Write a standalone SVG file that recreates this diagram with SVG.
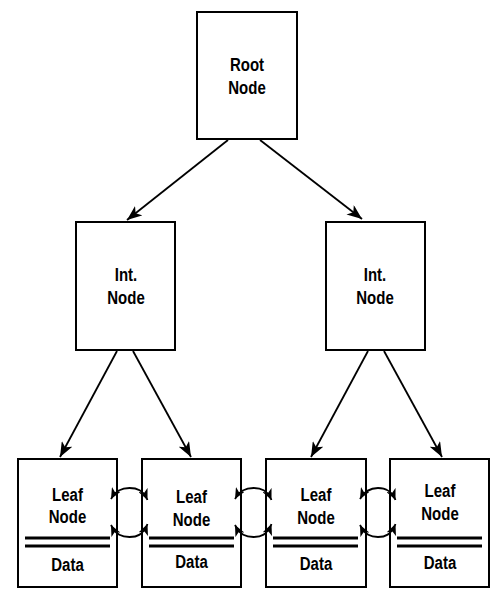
<svg xmlns="http://www.w3.org/2000/svg" width="499" height="600" viewBox="0 0 499 600">
<style>
.box{fill:#fff;stroke:#000;stroke-width:2}
.t{font-family:"Liberation Sans",Arial,sans-serif;font-weight:bold;font-size:18.5px;text-anchor:middle;fill:#000}
.sep{stroke:#000;stroke-width:3}
.edge{fill:none;stroke:#000;stroke-width:1.8;marker-end:url(#ah)}
.link{fill:none;stroke:#000;stroke-width:1.8;marker-start:url(#sh);marker-end:url(#sh)}
</style>
<defs>
<marker id="ah" viewBox="0 0 15 12" refX="15" refY="6" markerWidth="15" markerHeight="12" markerUnits="userSpaceOnUse" orient="auto">
<path d="M0,0 L15,6 L0,12 L4,6 z" fill="#000"/>
</marker>
<marker id="sh" viewBox="0 0 11 10" refX="11" refY="5" markerWidth="11" markerHeight="10" markerUnits="userSpaceOnUse" orient="auto-start-reverse">
<path d="M0,0 L11,5 L0,10 L3,5 z" fill="#000"/>
</marker>
</defs>
<rect width="499" height="600" fill="#fff"/>
<g id="root">
<rect class="box" x="197" y="12" width="100" height="127"/>
<text class="t" transform="matrix(0.81 0 0 1 247 71)">Root</text>
<text class="t" transform="matrix(0.81 0 0 1 247 94)">Node</text>
</g>
<g id="int1">
<rect class="box" x="76" y="222" width="99" height="128"/>
<text class="t" transform="matrix(0.81 0 0 1 126 281)">Int.</text>
<text class="t" transform="matrix(0.81 0 0 1 126 304)">Node</text>
</g>
<g id="int2">
<rect class="box" x="326" y="222" width="99" height="128"/>
<text class="t" transform="matrix(0.81 0 0 1 375 281)">Int.</text>
<text class="t" transform="matrix(0.81 0 0 1 375 304)">Node</text>
</g>
<g id="leaf1">
<rect class="box" x="18" y="459" width="99" height="128"/>
<line class="sep" x1="25" y1="538" x2="110" y2="538"/>
<line class="sep" x1="25" y1="546" x2="110" y2="546"/>
<text class="t" transform="matrix(0.81 0 0 1 67.5 500.5)">Leaf</text>
<text class="t" transform="matrix(0.81 0 0 1 67.5 523)">Node</text>
<text class="t" transform="matrix(0.81 0 0 1 67.5 570.5)">Data</text>
</g>
<g id="leaf2">
<rect class="box" x="142" y="459" width="99" height="128"/>
<line class="sep" x1="149" y1="538" x2="234" y2="538"/>
<line class="sep" x1="149" y1="546" x2="234" y2="546"/>
<text class="t" transform="matrix(0.81 0 0 1 191.5 502.5)">Leaf</text>
<text class="t" transform="matrix(0.81 0 0 1 191.5 526)">Node</text>
<text class="t" transform="matrix(0.81 0 0 1 191.5 568)">Data</text>
</g>
<g id="leaf3">
<rect class="box" x="266" y="459" width="100" height="128"/>
<line class="sep" x1="273" y1="538" x2="358" y2="538"/>
<line class="sep" x1="273" y1="546" x2="358" y2="546"/>
<text class="t" transform="matrix(0.81 0 0 1 316 500.5)">Leaf</text>
<text class="t" transform="matrix(0.81 0 0 1 316 523.5)">Node</text>
<text class="t" transform="matrix(0.81 0 0 1 316 570)">Data</text>
</g>
<g id="leaf4">
<rect class="box" x="390" y="459" width="99" height="128"/>
<line class="sep" x1="397" y1="538" x2="482" y2="538"/>
<line class="sep" x1="397" y1="546" x2="482" y2="546"/>
<text class="t" transform="matrix(0.81 0 0 1 440 496.5)">Leaf</text>
<text class="t" transform="matrix(0.81 0 0 1 440 520)">Node</text>
<text class="t" transform="matrix(0.81 0 0 1 440 568.5)">Data</text>
</g>
<g id="connectors">
<line class="edge" x1="228" y1="140" x2="127" y2="220"/>
<line class="edge" x1="260" y1="140" x2="362" y2="219"/>
<line class="edge" x1="117" y1="351" x2="60" y2="457"/>
<line class="edge" x1="133" y1="351" x2="191" y2="457"/>
<line class="edge" x1="368" y1="351" x2="311" y2="457"/>
<line class="edge" x1="384" y1="351" x2="442" y2="457"/>
<path class="link" d="M111,499 C116,490 122,488 129.5,488 S143,490 147.5,500"/>
<path class="link" d="M111,525 C116,535 122,537 129.5,537 S143,535 147.5,524"/>
<path class="link" d="M235,499 C240,490 246,488 253.5,488 S267,490 271.5,500"/>
<path class="link" d="M235,525 C240,535 246,537 253.5,537 S267,535 271.5,524"/>
<path class="link" d="M360,499 C365,490 371,488 378,488 S391,490 395.5,500"/>
<path class="link" d="M360,525 C365,535 371,537 378,537 S391,535 395.5,524"/>
</g>
</svg>
